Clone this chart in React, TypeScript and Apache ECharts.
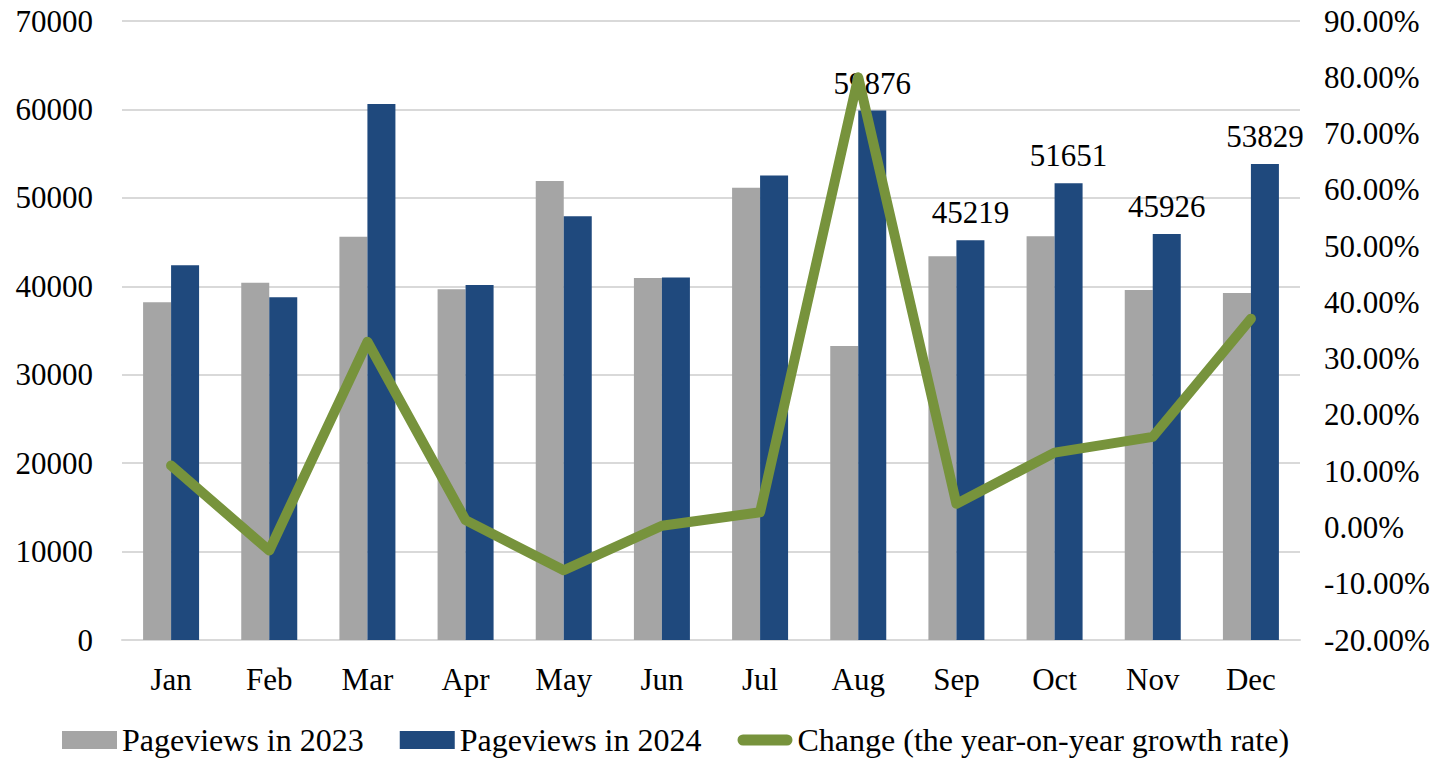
import React, { useEffect, useRef } from "react";
import * as echarts from "echarts";

const months = ["Jan", "Feb", "Mar", "Apr", "May", "Jun", "Jul", "Aug", "Sep", "Oct", "Nov", "Dec"];
const views2023 = [38190, 40410, 45610, 39660, 51910, 40930, 51130, 33240, 43410, 45670, 39580, 39240];
const views2024 = [42370, 38750, 60610, 40150, 47920, 40980, 52530, 59876, 45219, 51651, 45926, 53829];
const growthPct = [11.0, -4.1, 33.0, 1.3, -7.6, 0.3, 2.7, 80.0, 4.2, 13.3, 16.1, 37.1];
const labelled2024 = ["Aug", "Sep", "Oct", "Nov", "Dec"];

const leftTicks = { min: 0, max: 70000, interval: 10000 };
const rightTicks = { min: -20, max: 90, interval: 10 };

const FONT = '"Liberation Serif", "Times New Roman", serif';
const LINE_ICON = "path://M6,0 L54,0 A6,6 0 0 1 54,12 L6,12 A6,6 0 0 1 6,0 Z";

export default function App() {
  const ref = useRef<HTMLDivElement>(null);
  useEffect(() => {
    if (!ref.current) return;
    const chart = echarts.init(ref.current, undefined, { renderer: "svg" });
    chart.setOption({
      animation: false,
      backgroundColor: "#ffffff",
      textStyle: { fontFamily: FONT },
      grid: { left: 122, right: 135, top: 21, bottom: 120, containLabel: false },
      legend: {
        left: 57,
        top: 719,
        itemWidth: 55,
        itemHeight: 18,
        itemGap: 36,
        textStyle: { fontFamily: FONT, fontSize: 32, color: "#000" },
        data: [
          { name: "Pageviews in 2023", icon: "rect" },
          { name: "Pageviews in 2024", icon: "rect" },
          {
            name: "Change (the year-on-year growth rate)",
            icon: LINE_ICON,
            itemStyle: { color: "#77933C" },
          },
        ],
      },
      xAxis: {
        type: "category",
        data: months,
        axisTick: { show: false },
        axisLine: { lineStyle: { color: "#D9D9D9", width: 2 } },
        axisLabel: { color: "#000", fontSize: 31, fontFamily: FONT, margin: 24 },
      },
      yAxis: [
        {
          type: "value",
          min: leftTicks.min,
          max: leftTicks.max,
          interval: leftTicks.interval,
          axisLine: { show: false },
          axisTick: { show: false },
          splitLine: { lineStyle: { color: "#D9D9D9", width: 2 } },
          axisLabel: {
            color: "#000",
            fontSize: 31,
            fontFamily: FONT,
            margin: 29,
            formatter: (v: number) => String(v),
          },
        },
        {
          type: "value",
          min: rightTicks.min,
          max: rightTicks.max,
          interval: rightTicks.interval,
          axisLine: { show: false },
          axisTick: { show: false },
          splitLine: { show: false },
          axisLabel: {
            color: "#000",
            fontSize: 31,
            fontFamily: FONT,
            margin: 24,
            formatter: (v: number) => v.toFixed(2) + "%",
          },
        },
      ],
      series: [
        {
          name: "Pageviews in 2023",
          type: "bar",
          data: views2023,
          barWidth: 28,
          barGap: "0%",
          itemStyle: { color: "#A5A5A5" },
        },
        {
          name: "Pageviews in 2024",
          type: "bar",
          barWidth: 28,
          data: views2024.map((v, i) => ({
            value: v,
            label: { show: labelled2024.includes(months[i]) },
          })),
          itemStyle: { color: "#1F497D" },
          label: {
            position: "top",
            distance: 12,
            color: "#000",
            fontSize: 31,
            fontFamily: FONT,
          },
        },
        {
          name: "Change (the year-on-year growth rate)",
          type: "line",
          yAxisIndex: 1,
          data: growthPct,
          symbol: "none",
          lineStyle: { color: "#77933C", width: 10, cap: "round", join: "round" },
          itemStyle: { color: "#77933C" },
          z: 3,
        },
      ],
    });
    return () => chart.dispose();
  }, []);
  return (
    <div
      ref={ref}
      style={{ position: "absolute", left: 0, top: 0, width: 1435, height: 760 }}
    />
  );
}
